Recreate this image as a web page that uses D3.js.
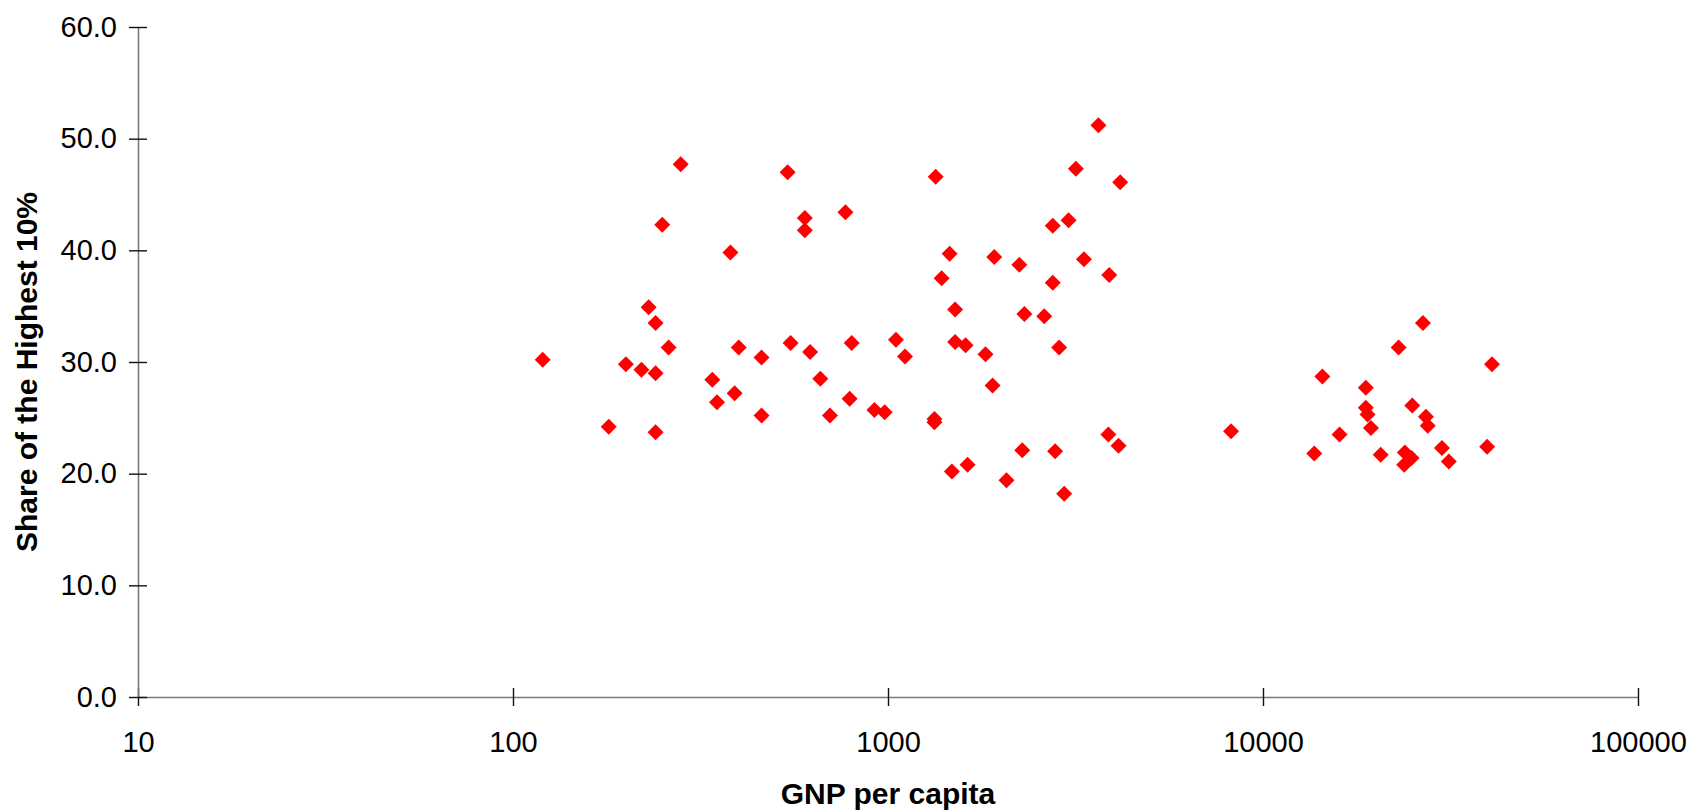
<!DOCTYPE html>
<html>
<head>
<meta charset="utf-8">
<script src="https://cdn.jsdelivr.net/npm/d3@7"></script>
<style>
  html, body { margin: 0; padding: 0; background: #fff; }
  svg { display: block; font-family: "Liberation Sans", Arial, sans-serif; }
</style>
</head>
<body>
<svg id="chart" width="1692" height="811"></svg>
<script>
// GNP per capita (US$) of each country
const gnp = [
  120, 180, 200, 220, 230, 240, 240, 240, 250, 260,
  280, 340, 350, 380, 390, 400, 460, 460, 540, 550,
  600, 600, 620, 660, 700, 770, 790, 800, 920, 980,
  1050, 1110, 1330, 1330, 1340, 1390, 1460, 1480, 1510, 1510,
  1610, 1630, 1820, 1900, 1920, 2070, 2240, 2280, 2310, 2610,
  2750, 2750, 2790, 2860, 2950, 3030, 3170, 3330, 3640, 3870,
  3890, 4120, 4160, 8220, 13700, 14400, 16000, 18800, 18800, 19000,
  19400, 20600, 23000, 23900, 24900, 23800, 25000, 26700, 27200, 27500,
  30000, 31300, 39600, 40800
];
// Income share held by the highest 10% (%)
const top10 = [
  30.2, 24.2, 29.8, 29.3, 34.9, 33.5, 29.0, 23.7, 42.3, 31.3,
  47.7, 28.4, 26.4, 39.8, 27.2, 31.3, 30.4, 25.2, 47.0, 31.7,
  42.9, 41.8, 30.9, 28.5, 25.2, 43.4, 26.7, 31.7, 25.7, 25.5,
  32.0, 30.5, 24.9, 24.6, 46.6, 37.5, 39.7, 20.2, 31.8, 34.7,
  31.5, 20.8, 30.7, 27.9, 39.4, 19.4, 38.7, 22.1, 34.3, 34.1,
  42.2, 37.1, 22.0, 31.3, 18.2, 42.7, 47.3, 39.2, 51.2, 23.5,
  37.8, 22.5, 46.1, 23.8, 21.8, 28.7, 23.5, 27.7, 25.9, 25.3,
  24.1, 21.7, 31.3, 21.9, 21.4, 20.8, 26.1, 33.5, 25.1, 24.3,
  22.3, 21.1, 22.4, 29.8
];
const xTicks = [10, 100, 1000, 10000, 100000];
const yTicks = [0, 10, 20, 30, 40, 50, 60];

const svg = d3.select("#chart");
const plotLeft = 138, plotRight = 1638, plotTop = 27, plotBottom = 697;

const x = d3.scaleLog().domain([10, 100000]).range([plotLeft, plotRight]);
const y = d3.scaleLinear().domain([0, 60]).range([plotBottom, plotTop]);

const fontSize = 29;
const axisGray = "#7a7a7a";
const fontStack = "'Liberation Sans', Arial, sans-serif";

// x axis
const gx = svg.append("g")
  .attr("transform", `translate(0,${plotBottom})`)
  .call(d3.axisBottom(x).tickValues(xTicks).tickFormat(d3.format("d"))
    .tickSizeInner(9).tickSizeOuter(0).tickPadding(25));
gx.select(".domain").attr("stroke", axisGray).attr("stroke-width", 1.6);
gx.selectAll(".tick line").attr("y1", -9).attr("stroke", "#111").attr("stroke-width", 1.4);
gx.selectAll(".tick text").attr("font-size", fontSize).attr("fill", "#000")
  .attr("font-family", fontStack);

// y axis
const gy = svg.append("g")
  .attr("transform", `translate(${plotLeft},0)`)
  .call(d3.axisLeft(y).tickValues(yTicks).tickFormat(d3.format(".1f"))
    .tickSizeInner(9).tickSizeOuter(0).tickPadding(12));
gy.select(".domain").attr("stroke", axisGray).attr("stroke-width", 1.6);
gy.selectAll(".tick line").attr("x1", 9).attr("stroke", "#111").attr("stroke-width", 1.4);
gy.selectAll(".tick text").attr("font-size", fontSize).attr("fill", "#000")
  .attr("font-family", fontStack);

// axis titles
svg.append("text")
  .attr("x", 888).attr("y", 804)
  .attr("text-anchor", "middle")
  .attr("font-size", 30).attr("font-weight", "bold")
  .attr("font-family", fontStack)
  .text("GNP per capita");

svg.append("text")
  .attr("transform", "translate(37,372) rotate(-90)")
  .attr("text-anchor", "middle")
  .attr("font-size", 30).attr("font-weight", "bold")
  .attr("font-family", fontStack)
  .text("Share of the Highest 10%");

// red diamond markers
const diamond = d3.symbol().type(d3.symbolSquare).size(128);
svg.append("g")
  .selectAll("path")
  .data(gnp.map((g, i) => [g, top10[i]]))
  .join("path")
  .attr("d", diamond)
  .attr("transform", d => `translate(${x(d[0])},${y(d[1])}) rotate(45)`)
  .attr("fill", "#ff0000");
</script>
</body>
</html>
